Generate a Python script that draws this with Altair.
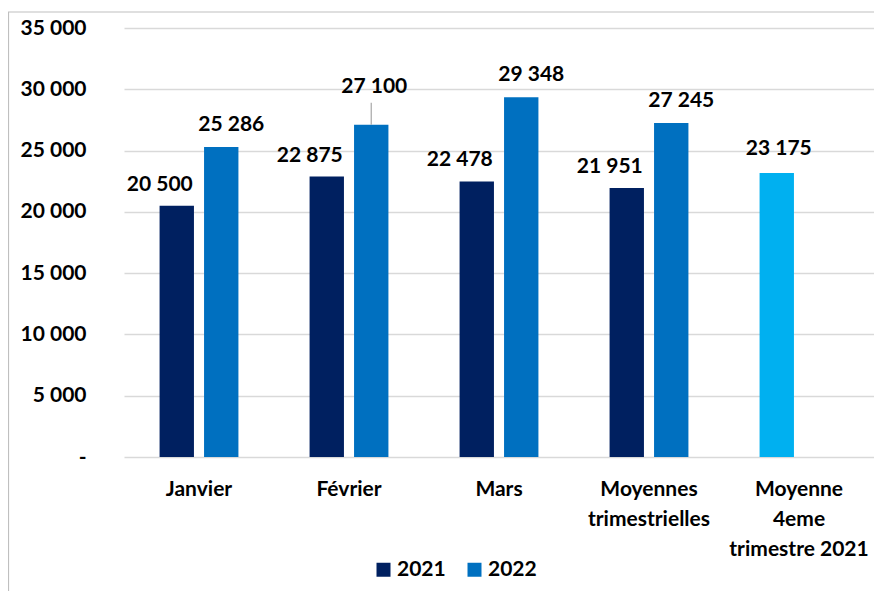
import altair as alt
import pandas as pd

categories = ["Janvier", "Février", "Mars", "Moyennes trimestrielles"]
values_2021 = [20500, 22875, 22478, 21951]
values_2022 = [25286, 27100, 29348, 27245]
q4_category = "Moyenne 4eme trimestre 2021"
q4_value = 23175
y_ticks = [0, 5000, 10000, 15000, 20000, 25000, 30000, 35000]

rows = []
for c, v in zip(categories, values_2021):
    rows.append({"cat": c, "series": "2021", "key": "2021", "value": v})
for c, v in zip(categories, values_2022):
    rows.append({"cat": c, "series": "2022", "key": "2022", "value": v})
rows.append({"cat": q4_category, "series": "2021", "key": "Q4", "value": q4_value})
df = pd.DataFrame(rows)
cat_order = categories + [q4_category]

FONT = "Lato"
FS = 21
NAVY, BLUE, LIGHT = "#002060", "#0070C0", "#00B0F0"

base = alt.Chart(df).transform_calculate(
    lbl="replace(format(datum.value, ','), ',', ' ')"
)

x_enc = alt.X(
    "cat:N",
    sort=cat_order,
    scale=alt.Scale(paddingInner=0, paddingOuter=0),
    axis=alt.Axis(
        title=None, labelAngle=0, ticks=False, domain=False,
        labelFont=FONT, labelFontSize=FS, labelFontWeight="bold", labelColor="#000000",
        labelPadding=21, labelLineHeight=30, labelLimit=0, labelOverlap=False,
        labelExpr="datum.label == 'Moyennes trimestrielles' ? ['Moyennes', 'trimestrielles'] : "
                  "datum.label == 'Moyenne 4eme trimestre 2021' ? ['Moyenne', '4eme', 'trimestre 2021'] : datum.label",
    ),
)
xo_enc = alt.XOffset("series:N", scale=alt.Scale(paddingInner=0.227, paddingOuter=0.8))
y_enc = alt.Y(
    "value:Q",
    scale=alt.Scale(domain=[0, 35000], nice=False),
    axis=alt.Axis(
        title=None, values=y_ticks, ticks=False, domain=False,
        grid=True, gridColor="#d9d9d9", gridWidth=1.5,
        labelFont=FONT, labelFontSize=FS, labelFontWeight="bold", labelColor="#000000",
        labelPadding=38,
        labelExpr="datum.value == 0 ? '-\u00a0\u00a0' : replace(format(datum.value, ','), ',', ' ')",
    ),
)
color_enc = alt.Color(
    "key:N",
    scale=alt.Scale(domain=["2021", "2022", "Q4"], range=[NAVY, BLUE, LIGHT]),
    legend=alt.Legend(
        title=None, values=["2021", "2022"], orient="none", direction="horizontal",
        legendX=249, legendY=531, symbolType="square", symbolSize=196,
        symbolStrokeWidth=0, labelFont=FONT, labelFontSize=FS, labelFontWeight="bold",
        labelColor="#000000", labelOffset=3, columnPadding=18, padding=0,
    ),
)

bars = base.mark_bar().encode(x=x_enc, xOffset=xo_enc, y=y_enc, color=color_enc)

text_style = dict(font=FONT, fontSize=FS, fontWeight="bold", color="#000000",
                  baseline="alphabetic", align="center")

t2021 = base.transform_filter("datum.key == '2021'").mark_text(dx=-17, dy=-15, **text_style).encode(
    x=alt.X("cat:N", sort=cat_order), xOffset="series:N", y="value:Q", text="lbl:N")
t2022 = base.transform_filter("datum.key == '2022' && datum.cat != 'Février'").mark_text(
    dx=10, dy=-16, **text_style).encode(
    x=alt.X("cat:N", sort=cat_order), xOffset="series:N", y="value:Q", text="lbl:N")
t2022f = base.transform_filter("datum.key == '2022' && datum.cat == 'Février'").mark_text(
    dx=3, dy=-32, **text_style).encode(
    x=alt.X("cat:N", sort=cat_order), xOffset="series:N", y="value:Q", text="lbl:N")
leader = base.transform_filter("datum.key == '2022' && datum.cat == 'Février'").mark_rule(
    color="#a6a6a6", strokeWidth=1.2, y2Offset=-22).encode(
    x=alt.X("cat:N", sort=cat_order), xOffset="series:N", y="value:Q", y2="value:Q")
tq4 = base.transform_filter("datum.key == 'Q4'").mark_text(dx=2, dy=-18, **text_style).encode(
    x=alt.X("cat:N", sort=cat_order), xOffset="series:N", y="value:Q", text="lbl:N")

frame_data = alt.Data(values=[{"a": 1}])
left_border = alt.Chart(frame_data).mark_rule(color="#bfbfbf", strokeWidth=1.2).encode(
    x=alt.value(-115.5), y=alt.value(-16), y2=alt.value(580))
top_border = alt.Chart(frame_data).mark_rule(color="#bfbfbf", strokeWidth=1.2).encode(
    x=alt.value(-116), x2=alt.value(760), y=alt.value(-16))

chart = alt.layer(bars, leader, t2021, t2022, t2022f, tq4, left_border, top_border).properties(
    width=750, height=429,
    autosize=alt.AutoSizeParams(type="none"),
    padding={"left": 116, "top": 20, "right": 0, "bottom": 134},
    background="#ffffff",
).configure_view(stroke=None)

chart.save("out.html", embed_options={"renderer": "svg", "actions": False})
